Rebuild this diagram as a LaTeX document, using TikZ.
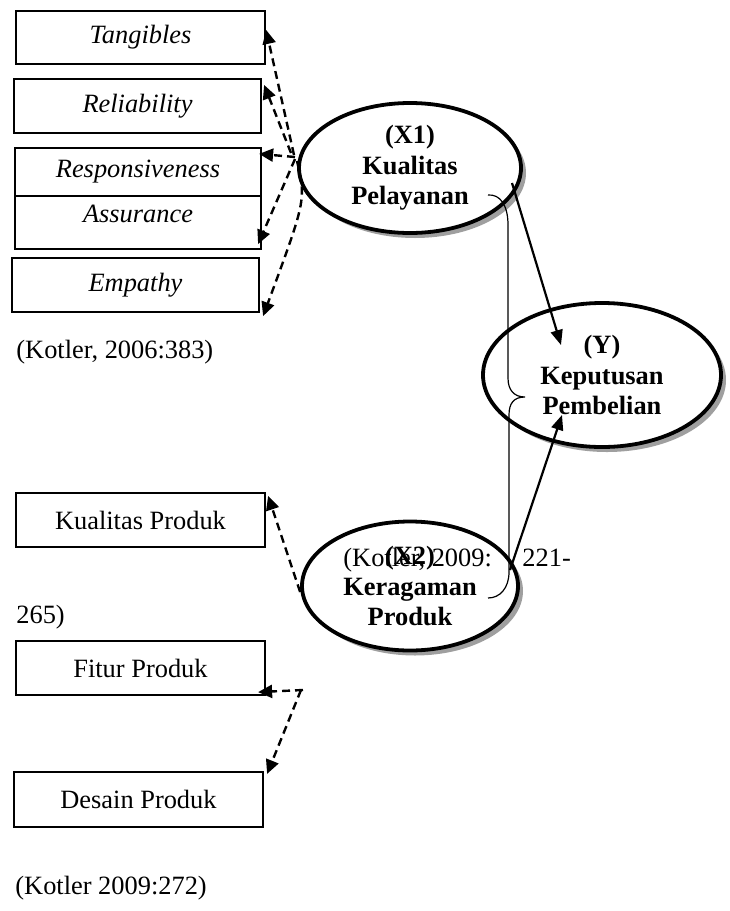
\documentclass[tikz,border=0pt]{standalone}
\usepackage{fontspec}
\setmainfont{Liberation Serif}
\usetikzlibrary{shapes.geometric,arrows.meta,shadows}
\begin{document}
\begin{tikzpicture}[x=0.5pt,y=-0.5pt,
  font=\fontsize{13.2}{15}\selectfont,
  box/.style={draw,line width=1.1pt,inner sep=0pt,minimum width=124.5pt,minimum height=27pt,font=\fontsize{13.2}{15}\selectfont\itshape},
  pbox/.style={box,font=\fontsize{13.2}{15}\selectfont},
  ell/.style={ellipse,draw,line width=1.9pt,fill=white,inner sep=0pt,align=center,
    font=\fontsize{13.2}{15.2}\selectfont\bfseries,
    drop shadow={shadow xshift=2.5pt,shadow yshift=-2.5pt,fill=gray!75,opacity=1}},
  dsh/.style={line width=1.2pt,dash pattern=on 4pt off 2.5pt,-{Triangle[length=7pt,width=6.5pt]}},
  arr/.style={line width=1.1pt,-{Triangle[length=7.5pt,width=6pt]}},
  txt/.style={anchor=base west,inner sep=0pt}]
\useasboundingbox (0,0) rectangle (729,911);

% boxes of X1
\node[box,minimum width=124.5pt,minimum height=26.5pt] (tang) at (140.5,37.5) {Tangibles};
\node[box,minimum width=123.5pt,minimum height=27pt] (reli) at (137.5,106) {Reliability};
\node[box,minimum width=123pt,minimum height=24pt] (resp) at (138,172) {Responsiveness};
\node[box,minimum width=123pt,minimum height=26.5pt] (assu) at (138,222.5) {};
\node[anchor=center,inner sep=0pt,font=\fontsize{13.2}{15}\selectfont\itshape] (assut) at (138,214) {Assurance};
\node[box,minimum width=123.5pt,minimum height=27pt] (empa) at (135.5,285) {Empathy};

% boxes of X2
\node[pbox,minimum width=124.5pt,minimum height=27pt] (kp) at (140.5,520) {Kualitas Produk};
\node[pbox,minimum width=124.5pt,minimum height=27pt] (fp) at (140.5,668) {Fitur Produk};
\node[pbox,minimum width=124.5pt,minimum height=27.5pt] (dp) at (138.5,799.5) {Desain Produk};

% ellipses
\node[ell,minimum width=111pt,minimum height=65pt] (x1) at (410,168) {(X1)\\Kualitas\\Pelayanan};
\node[ell,minimum width=119pt,minimum height=72pt] (y) at (602,375) {(Y)\\Keputusan\\Pembelian};
\node[ell,minimum width=108pt,minimum height=64.5pt] (x2) at (410,586) {(X2)\\Keragaman\\Produk};

% hubs
\coordinate (h1) at (295,157);
\coordinate (h3) at (301,690);

% dashed connectors X1
\draw[dsh] ([xshift=-0.5pt,yshift=1pt]h1) -- ([yshift=-10pt]tang.north east);
\draw[dsh] ([xshift=-2pt,yshift=2pt]h1) -- ([xshift=1pt,yshift=-3.5pt]reli.north east);
\draw[dsh] (h1) -- ([xshift=-1.5pt,yshift=-3.5pt]resp.north east);
\draw[dsh] ([yshift=-1pt]h1) -- ([xshift=-2pt,yshift=3pt]assu.south east);
\draw[dsh] ([xshift=1pt,yshift=-2pt]h1) .. controls (306,200) .. ([xshift=1.5pt,yshift=-1.5pt]empa.south east);

% dashed connectors X2
\draw[dsh] ([yshift=-3pt]x2.west) -- ([xshift=1pt,yshift=-2pt]kp.north east);
\draw[dsh] ([xshift=1pt]h3) -- ([xshift=-4pt,yshift=2pt]fp.south east);
\draw[dsh] (h3) -- ([xshift=1.5pt,yshift=-1.5pt]dp.north east);

% solid arrows to Y
\draw[arr] ([xshift=51pt,yshift=-7.5pt]x1.center) -- ([xshift=-20.5pt,yshift=15pt]y.center);
\draw[arr] ([xshift=50pt,yshift=8pt]x2.center) -- ([xshift=-20pt,yshift=-20pt]y.center);

% brace
\draw[line width=0.6pt] (488,195) .. controls (500,194) and (508,205) .. (508,225)
  -- (508,378) .. controls (508,390) and (514,397) .. (525,397)
  .. controls (514,397) and (509,403) .. (509,415)
  -- (509,572) .. controls (509,588) and (500,598) .. (488,598);

% citations
\node[txt] (c1) at (16,358) {(Kotler, 2006:383)};
\node[txt] (c2a) at (343,566) {(Kotler, 2009:};
\node[txt] (c2b) at (522,566) {221-};
\node[txt] (c2c) at (16,623) {265)};
\node[txt] (c3) at (15,894) {(Kotler 2009:272)};
\end{tikzpicture}
\end{document}
